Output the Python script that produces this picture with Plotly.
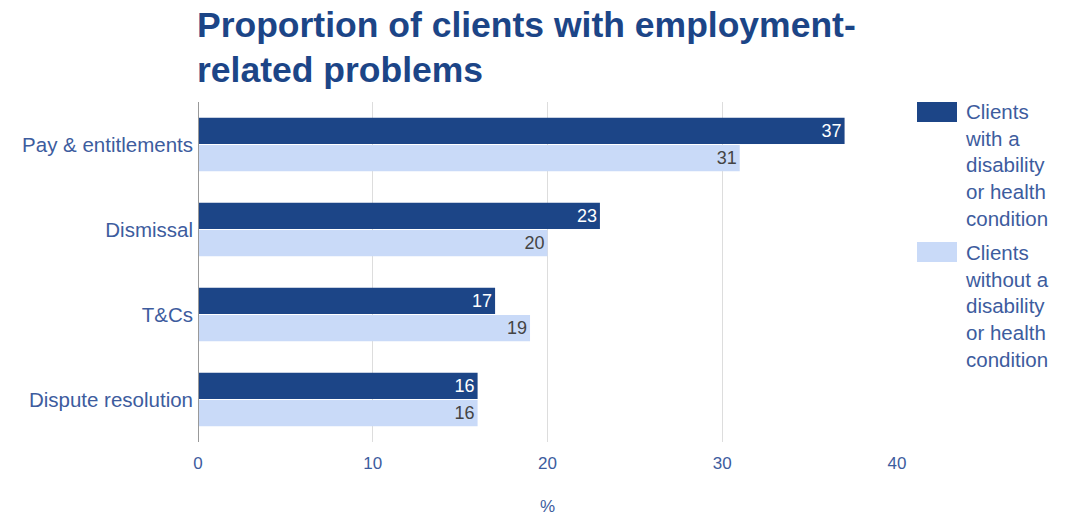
import plotly.graph_objects as go

categories = ["Pay & entitlements", "Dismissal", "T&Cs", "Dispute resolution"]
with_disability = [37, 23, 17, 16]
without_disability = [31, 20, 19, 16]
series_names = ["Clients<br>with a<br>disability<br>or health<br>condition",
                "Clients<br>without a<br>disability<br>or health<br>condition"]
title_lines = ["Proportion of clients with employment-", "related problems"]
x_ticks = [0, 10, 20, 30, 40]

DARK = "#1c4587"
LIGHT = "#c9daf8"
TXT = "#3d5c9e"
FONT = "Arial, Liberation Sans, sans-serif"

W, H = 1065, 516
L, R, T, B = 198, 168, 102, 74
pw, ph = W - L - R, H - T - B

def px_x(p):
    return (p - L) / pw

def px_y(p):
    return 1 - (p - T) / ph

fig = go.Figure()
fig.add_trace(go.Bar(
    y=categories, x=with_disability, orientation="h", name=series_names[0],
    marker=dict(color=DARK, line=dict(width=0)),
    text=with_disability, textposition="inside", insidetextanchor="end",
    textfont=dict(color="white", size=18, family=FONT), showlegend=False,
))
fig.add_trace(go.Bar(
    y=categories, x=without_disability, orientation="h", name=series_names[1],
    marker=dict(color=LIGHT, line=dict(width=0)),
    text=without_disability, textposition="inside", insidetextanchor="end",
    textfont=dict(color="#444444", size=18, family=FONT), showlegend=False,
))

shapes = []
annotations = []
for name, color, ytop, ymid in [(series_names[0], DARK, 102, 165),
                                (series_names[1], LIGHT, 242, 306)]:
    shapes.append(dict(type="rect", xref="paper", yref="paper",
                       x0=px_x(917), x1=px_x(957), y0=px_y(ytop), y1=px_y(ytop + 20),
                       fillcolor=color, line=dict(width=0)))
    annotations.append(dict(xref="paper", yref="paper", x=px_x(963), y=px_y(ymid),
                            xanchor="left", yanchor="middle", align="left",
                            text=name, showarrow=False,
                            font=dict(size=20.5, color=TXT, family=FONT)))

for line, ymid in zip(title_lines, [25, 70]):
    annotations.append(dict(xref="paper", yref="paper", x=px_x(195), y=px_y(ymid),
                            xanchor="left", yanchor="middle", align="left",
                            text=line, showarrow=False,
                            font=dict(size=35.5, color=DARK, family=FONT, weight="bold")))

fig.update_layout(
    width=W, height=H,
    margin=dict(l=L, r=R, t=T, b=B, autoexpand=False),
    paper_bgcolor="white", plot_bgcolor="white",
    barmode="group", bargap=0.36, bargroupgap=0.04,
    font=dict(family=FONT, color=TXT),
    xaxis=dict(range=[0, 40], tickvals=x_ticks, showgrid=True, gridcolor="#dddddd",
               gridwidth=1, zeroline=False, showline=False, automargin=False,
               tickfont=dict(size=17, color=TXT), ticklabelstandoff=9,
               title=dict(text="%", font=dict(size=17, color=TXT), standoff=36)),
    yaxis=dict(autorange="reversed", showgrid=False, zeroline=False, automargin=False,
               showline=False, tickfont=dict(size=20.5, color=TXT), ticklabelstandoff=4),
    shapes=shapes + [dict(type="line", xref="x", yref="paper", x0=0, x1=0, y0=0, y1=1,
                          line=dict(color="#999999", width=2))],
    annotations=annotations,
)

fig.write_html("out.html")
